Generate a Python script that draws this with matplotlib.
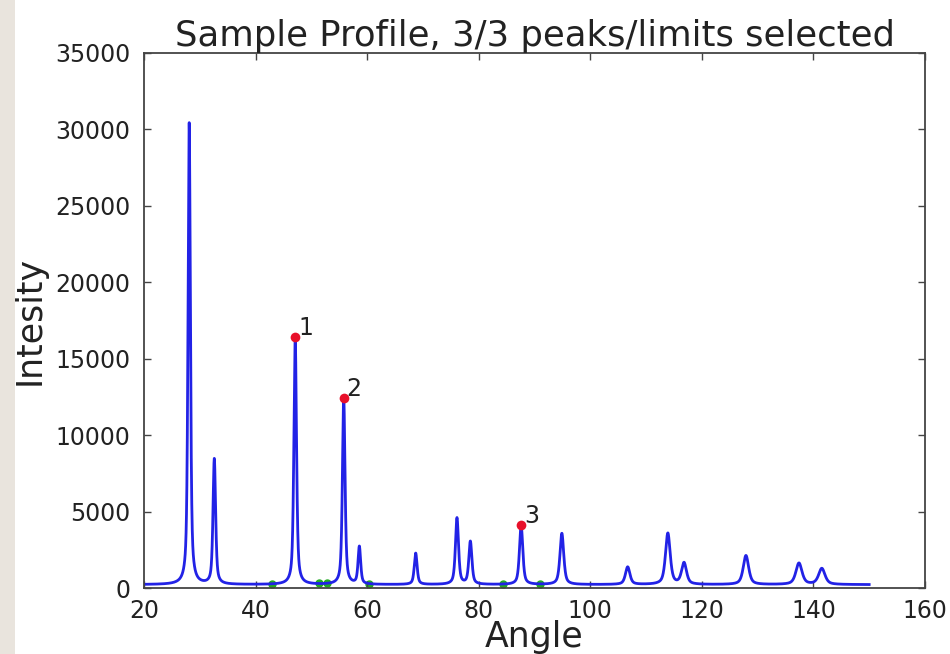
import matplotlib.pyplot as plt
from matplotlib.patches import Rectangle
import numpy as np

# peak list of the measured profile: position (deg), height above background, FWHM (deg)
peak_angles = [28.1, 32.6, 47.1, 55.8, 58.6, 68.7, 76.1, 78.5, 87.6, 94.9,
               106.7, 113.9, 116.8, 127.9, 137.4, 141.5]
peak_heights = [30200, 8200, 16200, 12200, 2450, 2050, 4350, 2800, 3900, 3350,
                1150, 3350, 1400, 1900, 1400, 1050]
peak_widths = [0.50, 0.55, 0.55, 0.55, 0.55, 0.60, 0.65, 0.65, 0.70, 0.80,
               0.95, 1.00, 1.05, 1.15, 1.30, 1.35]
background = 220

# selected peaks and their integration limits
selected_angles = [47.1, 55.8, 87.6]
selected_labels = ['1', '2', '3']
limit_angles = [42.9, 51.3, 52.8, 60.4, 84.3, 91.0]


def pseudo_voigt(x, c, h, w, eta=0.6):
    lor = 1.0 / (1.0 + ((x - c) / (w / 2.0)) ** 2)
    gau = np.exp(-np.log(2) * ((x - c) / (w / 2.0)) ** 2)
    return h * (eta * lor + (1 - eta) * gau)


def profile(x):
    y = np.full_like(x, background, dtype=float)
    for c, h, w in zip(peak_angles, peak_heights, peak_widths):
        y += pseudo_voigt(x, c, h, w)
    return y


def plot_profile():
    angle = np.arange(20, 150, 0.01)
    intensity = profile(angle)

    fig = plt.figure(figsize=(9.5, 6.54), dpi=100)
    fig.patch.set_facecolor('white')
    fig.patches.append(Rectangle((0, 0), 15 / 950, 1, transform=fig.transFigure,
                                 facecolor='#e9e4dd', edgecolor='none', zorder=-1))
    ax = fig.add_axes([0.1516, 0.1009, 0.8221, 0.8181])

    lim_y = np.interp(limit_angles, angle, intensity)
    ax.plot(limit_angles, lim_y, 'o', color='#22aa22', markersize=5, zorder=1)
    ax.plot(angle, intensity, color='#2222e6', lw=2.0, zorder=2)

    sel_y = np.interp(selected_angles, angle, intensity)
    ax.plot(selected_angles, sel_y, 'o', color='#e8102a', markersize=7,
            markeredgewidth=0, zorder=3)
    for a, y, lab in zip(selected_angles, sel_y, selected_labels):
        ax.annotate(lab, (a, y), xytext=(2, 1), textcoords='offset points',
                    fontsize=17, color='#222222')

    ax.set_xlim(20, 160)
    ax.set_ylim(0, 35000)
    ax.set_xticks(np.arange(20, 161, 20))
    ax.set_yticks(np.arange(0, 35001, 5000))
    ax.tick_params(direction='in', top=True, right=True, length=5, width=1,
                   labelsize=17, labelcolor='#222222', color='#444444')
    ax.tick_params(axis='x', pad=8)
    ax.tick_params(axis='y', pad=10)
    for s in ax.spines.values():
        s.set_color('#444444')
        s.set_linewidth(1.3)

    ax.set_title('Sample Profile, 3/3 peaks/limits selected', fontsize=25.5,
                 color='#222222', pad=5)
    ax.set_xlabel('Angle', fontsize=25, color='#222222', labelpad=-2)
    ax.set_ylabel('Intesity', fontsize=25, color='#222222', labelpad=6)

    fig.savefig('out.png', dpi=100)


if __name__ == '__main__':
    plot_profile()
